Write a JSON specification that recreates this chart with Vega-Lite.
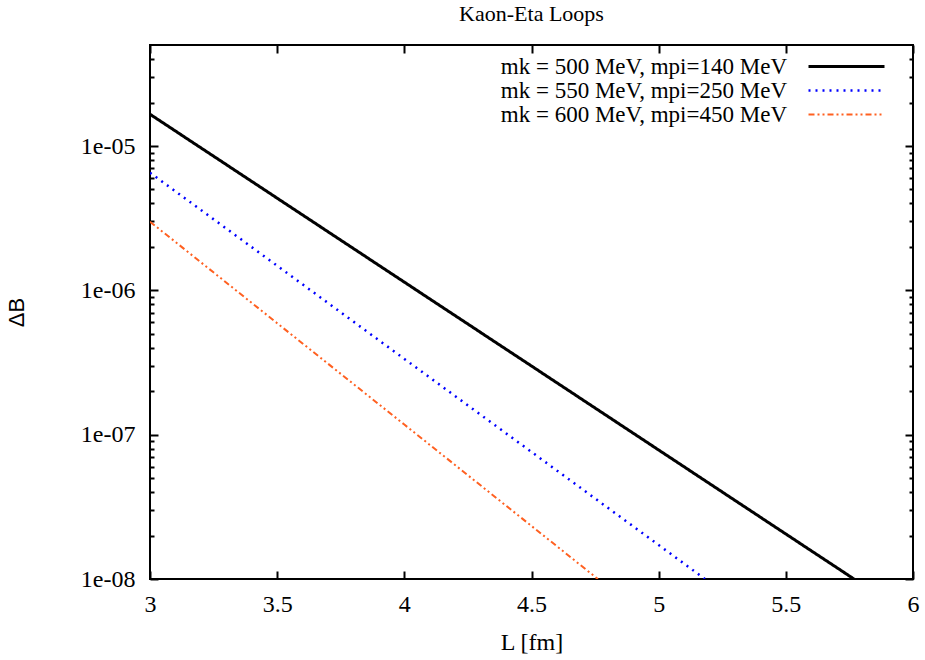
{
  "$schema": "https://vega.github.io/schema/vega-lite/v6.json",
  "width": 763,
  "height": 534,
  "autosize": "none",
  "padding": {"left": 150, "top": 45, "right": 12, "bottom": 81},
  "background": "white",
  "title": {"text": "Kaon-Eta Loops", "font": "Liberation Serif", "fontSize": 22, "fontWeight": "normal", "color": "black", "offset": 18, "anchor": "middle"},
  "config": {
    "view": {"stroke": "black", "strokeWidth": 2},
    "axis": {"grid": false, "domain": false, "labelFont": "Liberation Serif", "labelFontSize": 24, "labelColor": "black", "titleFont": "Liberation Serif", "titleFontSize": 24, "titleFontWeight": "normal", "titleColor": "black", "tickColor": "black", "tickWidth": 2},
    "legend": {"title": null, "orient": "none", "legendX": 685, "legendY": 10, "symbolType": "M-4,0H4", "symbolSize": 361, "labelFont": "Liberation Serif", "labelFontSize": 23, "labelColor": "black", "labelLimit": 0, "labelAlign": "right", "labelOffset": -71, "rowPadding": 0, "padding": 0}
  },
  "data": {"values": [
    {"L": 3.0, "dB": 1.66e-5, "series": "mk = 500 MeV, mpi=140 MeV"},
    {"L": 3.5, "dB": 4.35e-6, "series": "mk = 500 MeV, mpi=140 MeV"},
    {"L": 4.0, "dB": 1.14e-6, "series": "mk = 500 MeV, mpi=140 MeV"},
    {"L": 4.5, "dB": 2.99e-7, "series": "mk = 500 MeV, mpi=140 MeV"},
    {"L": 5.0, "dB": 7.83e-8, "series": "mk = 500 MeV, mpi=140 MeV"},
    {"L": 5.5, "dB": 2.05e-8, "series": "mk = 500 MeV, mpi=140 MeV"},
    {"L": 5.768, "dB": 1e-8, "series": "mk = 500 MeV, mpi=140 MeV"},
    {"L": 3.0, "dB": 6.53e-6, "series": "mk = 550 MeV, mpi=250 MeV"},
    {"L": 3.5, "dB": 1.48e-6, "series": "mk = 550 MeV, mpi=250 MeV"},
    {"L": 4.0, "dB": 3.35e-7, "series": "mk = 550 MeV, mpi=250 MeV"},
    {"L": 4.5, "dB": 7.59e-8, "series": "mk = 550 MeV, mpi=250 MeV"},
    {"L": 5.0, "dB": 1.72e-8, "series": "mk = 550 MeV, mpi=250 MeV"},
    {"L": 5.182, "dB": 1e-8, "series": "mk = 550 MeV, mpi=250 MeV"},
    {"L": 3.0, "dB": 2.99e-6, "series": "mk = 600 MeV, mpi=450 MeV"},
    {"L": 3.5, "dB": 5.92e-7, "series": "mk = 600 MeV, mpi=450 MeV"},
    {"L": 4.0, "dB": 1.175e-7, "series": "mk = 600 MeV, mpi=450 MeV"},
    {"L": 4.5, "dB": 2.33e-8, "series": "mk = 600 MeV, mpi=450 MeV"},
    {"L": 4.761, "dB": 1e-8, "series": "mk = 600 MeV, mpi=450 MeV"}
  ]},
  "resolve": {"axis": {"x": "independent", "y": "independent"}},
  "layer": [
    {
      "mark": {"type": "line", "clip": true},
      "encoding": {
        "x": {"field": "L", "type": "quantitative", "scale": {"domain": [3, 6], "nice": false, "zero": false},
          "axis": {"orient": "bottom", "values": [3, 3.5, 4, 4.5, 5, 5.5, 6], "format": "~g", "ticks": false, "labelFont": "Liberation Serif", "labelFontSize": 24, "labelPadding": 13, "labelFlush": false, "title": "L [fm]", "titleFont": "Liberation Serif", "titleFontSize": 24, "titlePadding": 14}},
        "y": {"field": "dB", "type": "quantitative", "scale": {"type": "log", "domain": [1e-8, 5.01e-5], "nice": false},
          "axis": {"orient": "left", "values": [1e-8, 1e-7, 1e-6, 1e-5], "labelExpr": "'1e-0' + round(-log(datum.value)/LN10)", "ticks": false, "labelFont": "Liberation Serif", "labelFontSize": 24, "labelPadding": 15, "labelFlush": false, "title": "ΔB", "titleFont": "Liberation Sans", "titleFontSize": 22, "titlePadding": 52}},
        "color": {"field": "series", "type": "nominal",
          "scale": {"domain": ["mk = 500 MeV, mpi=140 MeV", "mk = 550 MeV, mpi=250 MeV", "mk = 600 MeV, mpi=450 MeV"], "range": ["#000000", "#0000ff", "#ff6020"]}},
        "strokeDash": {"field": "series", "type": "nominal",
          "scale": {"domain": ["mk = 500 MeV, mpi=140 MeV", "mk = 550 MeV, mpi=250 MeV", "mk = 600 MeV, mpi=450 MeV"], "range": [[1, 0], [2, 5], [6, 3, 2, 3, 2, 3]]}},
        "strokeWidth": {"field": "series", "type": "nominal",
          "scale": {"domain": ["mk = 500 MeV, mpi=140 MeV", "mk = 550 MeV, mpi=250 MeV", "mk = 600 MeV, mpi=450 MeV"], "range": [3, 2, 2]}}
      }
    },
    {
      "mark": {"type": "line", "opacity": 0},
      "encoding": {
        "x": {"field": "L", "type": "quantitative", "axis": {"orient": "bottom", "values": [3, 3.5, 4, 4.5, 5, 5.5, 6], "labels": false, "tickSize": -8, "title": null}},
        "y": {"field": "dB", "type": "quantitative", "axis": {"orient": "left", "values": [1e-8, 1e-7, 1e-6, 1e-5], "labels": false, "tickSize": -8, "title": null}}
      }
    },
    {
      "mark": {"type": "line", "opacity": 0},
      "encoding": {
        "x": {"field": "L", "type": "quantitative", "axis": {"orient": "top", "values": [3, 3.5, 4, 4.5, 5, 5.5, 6], "labels": false, "tickSize": -8, "title": null}},
        "y": {"field": "dB", "type": "quantitative", "axis": {"orient": "right", "values": [1e-8, 1e-7, 1e-6, 1e-5], "labels": false, "tickSize": -8, "title": null}}
      }
    },
    {
      "mark": {"type": "line", "opacity": 0},
      "encoding": {
        "x": {"field": "L", "type": "quantitative", "axis": null},
        "y": {"field": "dB", "type": "quantitative", "axis": {"orient": "left", "values": [2e-8, 3e-8, 4e-8, 5e-8, 6e-8, 7e-8, 8e-8, 9e-8, 2e-7, 3e-7, 4e-7, 5e-7, 6e-7, 7e-7, 8e-7, 9e-7, 2e-6, 3e-6, 4e-6, 5e-6, 6e-6, 7e-6, 8e-6, 9e-6, 2e-5, 3e-5, 4e-5], "labels": false, "tickSize": -4, "title": null}}
      }
    },
    {
      "mark": {"type": "line", "opacity": 0},
      "encoding": {
        "x": {"field": "L", "type": "quantitative", "axis": null},
        "y": {"field": "dB", "type": "quantitative", "axis": {"orient": "right", "values": [2e-8, 3e-8, 4e-8, 5e-8, 6e-8, 7e-8, 8e-8, 9e-8, 2e-7, 3e-7, 4e-7, 5e-7, 6e-7, 7e-7, 8e-7, 9e-7, 2e-6, 3e-6, 4e-6, 5e-6, 6e-6, 7e-6, 8e-6, 9e-6, 2e-5, 3e-5, 4e-5], "labels": false, "tickSize": -4, "title": null}}
      }
    }
  ]
}
